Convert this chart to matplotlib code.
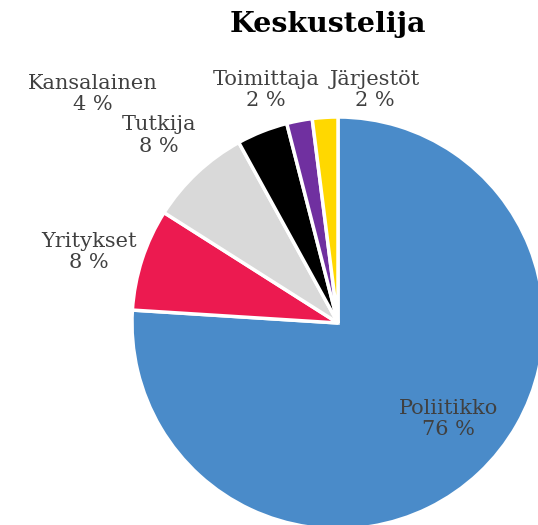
import matplotlib
matplotlib.use("Agg")
import matplotlib.pyplot as plt

# data
categories = ["Poliitikko", "Yritykset", "Tutkija", "Kansalainen", "Toimittaja", "Järjestöt"]
shares = [76, 8, 8, 4, 2, 2]
colors = ["#4A8BC9", "#EC1A50", "#D9D9D9", "#000000", "#7030A0", "#FFD800"]

# label centres, in units of pie radius (layout only)
label_pos = [(0.534, -0.466), (-1.21, 0.345), (-0.87, 0.91),
             (-1.19, 1.11), (-0.35, 1.13), (0.18, 1.13)]

plt.rcParams["font.family"] = ["DejaVu Serif"]

fig = plt.figure(figsize=(5.38, 5.25), dpi=100)
fig.patch.set_facecolor("white")

# pie centre at (338, 323) px, radius 206 px
cx, cy, r = 338, 323, 206
W, H = 538, 525
ax = fig.add_axes([(cx - r) / W, (H - cy - r) / H, 2 * r / W, 2 * r / H])
ax.pie(shares, colors=colors, startangle=90, counterclock=False, radius=1,
       wedgeprops=dict(edgecolor="white", linewidth=2.5))
ax.set_xlim(-1, 1)
ax.set_ylim(-1, 1)
ax.axis("off")

for name, val, (x, y) in zip(categories, shares, label_pos):
    ax.text(x, y, f"{name}\n{val} %", ha="center", va="center",
            fontsize=15, color="#404040", linespacing=1.15, clip_on=False)

fig.text(328 / W, 1 - 24 / H, "Keskustelija", ha="center", va="center",
         fontsize=20.5, fontweight="bold", color="black")

fig.savefig("out.png", dpi=100)
